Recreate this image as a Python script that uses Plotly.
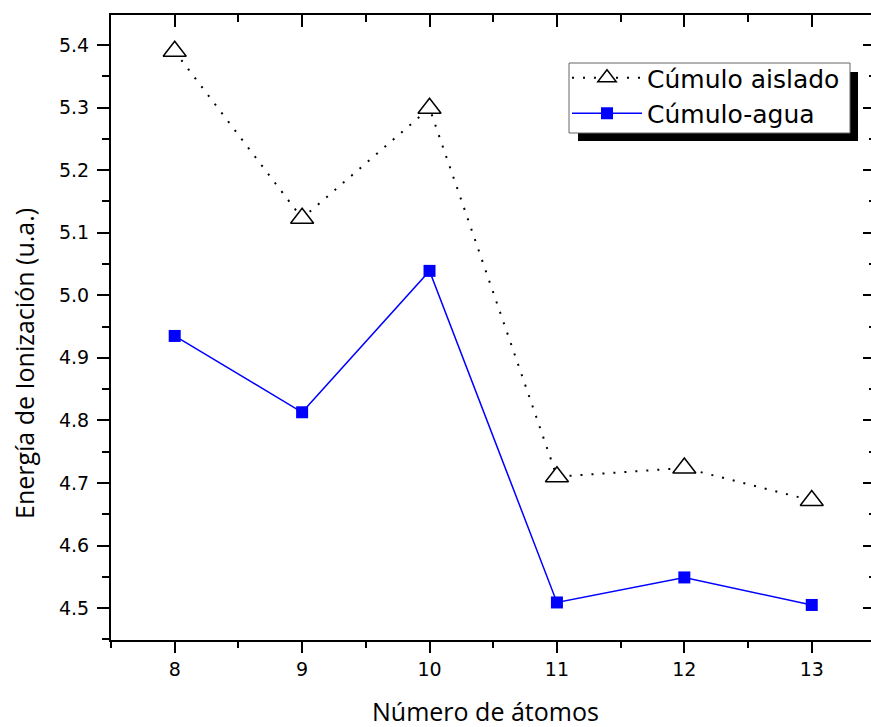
import plotly.graph_objects as go

atomos = [8, 9, 10, 11, 12, 13]
cumulo_aislado = [5.390, 5.123, 5.299, 4.710, 4.724, 4.672]
cumulo_agua = [4.935, 4.813, 5.039, 4.509, 4.549, 4.505]
x_ticks = [8, 9, 10, 11, 12, 13]
y_ticks = [4.5, 4.6, 4.7, 4.8, 4.9, 5.0, 5.1, 5.2, 5.3, 5.4]

W, H = 871, 727
ML, MR, MT, MB = 111, 0, 15, 87
PW, PH = W - ML - MR, H - MT - MB
XR = [7.5, 13.465]
YR = [4.449, 5.448]

def px(x):
    return (x - ML) / PW

def py(y):
    return (H - MB - y) / PH

tick_font = dict(family="DejaVu Sans", size=19, color="black")
title_font = dict(family="Open Sans", size=25, color="black")

fig = go.Figure()
fig.add_trace(go.Scatter(
    x=atomos, y=cumulo_aislado, name="Cúmulo aislado",
    mode="lines+markers",
    line=dict(color="black", width=2, dash="2px,9px"),
    marker=dict(symbol="triangle-up", size=20, color="white",
                line=dict(color="black", width=1.5)),
))
fig.add_trace(go.Scatter(
    x=atomos, y=cumulo_agua, name="Cúmulo-agua",
    mode="lines+markers",
    line=dict(color="#0000FF", width=1.5),
    marker=dict(symbol="square", size=12, color="#0000FF"),
))
fig.add_trace(go.Scatter(x=[None], y=[None], xaxis="x2", yaxis="y2",
                         showlegend=False, hoverinfo="skip"))

axis_common = dict(showgrid=False, zeroline=False, linecolor="black",
                   linewidth=2, tickcolor="black", tickwidth=2, automargin=False)

fig.update_layout(
    width=W, height=H,
    margin=dict(l=ML, r=MR, t=MT, b=MB),
    paper_bgcolor="white", plot_bgcolor="white",
    xaxis=dict(range=XR, tickvals=x_ticks, ticks="outside", ticklen=11,
               showline=True, mirror=True, tickfont=tick_font,
               minor=dict(dtick=0.5, tick0=7.5, ticks="outside", ticklen=6,
                          tickcolor="black", tickwidth=2),
               **axis_common),
    yaxis=dict(range=YR, tickvals=y_ticks, ticktext=[f"{v:.1f}" for v in y_ticks],
               ticks="outside", ticklen=12, showline=True, mirror=False,
               tickfont=tick_font, ticklabelstandoff=4,
               minor=dict(dtick=0.05, tick0=4.45, ticks="outside", ticklen=7,
                          tickcolor="black", tickwidth=2),
               **axis_common),
    xaxis2=dict(range=XR, overlaying="x", side="top", tickvals=x_ticks,
                ticks="inside", ticklen=12, showticklabels=False, showline=False,
                minor=dict(dtick=0.5, tick0=7.5, ticks="inside", ticklen=7,
                           tickcolor="black", tickwidth=2),
                **axis_common),
    yaxis2=dict(range=YR, overlaying="y", side="right", tickvals=y_ticks,
                ticks="inside", ticklen=8, showticklabels=False, showline=False,
                minor=dict(dtick=0.05, tick0=4.45, ticks="inside", ticklen=2,
                           tickcolor="black", tickwidth=2),
                **axis_common),
    legend=dict(x=px(567), y=py(55), xanchor="left", yanchor="top",
                bgcolor="rgba(0,0,0,0)", borderwidth=0,
                font=dict(family="DejaVu Sans", size=25, color="black"),
                itemwidth=70),
    shapes=[
        dict(type="rect", xref="paper", yref="paper",
             x0=px(578), x1=px(858), y0=py(141), y1=py(72),
             fillcolor="black", line=dict(width=0), layer="above"),
        dict(type="rect", xref="paper", yref="paper",
             x0=px(569), x1=px(850), y0=py(133), y1=py(63),
             fillcolor="white", line=dict(color="#666666", width=1), layer="above"),
    ],
    annotations=[
        dict(text="Número de átomos", xref="paper", yref="paper",
             x=px(485), y=py(711), xanchor="center", yanchor="middle",
             showarrow=False, font=title_font),
        dict(text="Energía de Ionización (u.a.)", xref="paper", yref="paper",
             x=px(24), y=py(364), xanchor="center", yanchor="middle",
             textangle=-90, showarrow=False, font=title_font),
    ],
)

fig.write_html("out.html", config={"displayModeBar": False},
               post_script="document.body.style.margin='0';")
